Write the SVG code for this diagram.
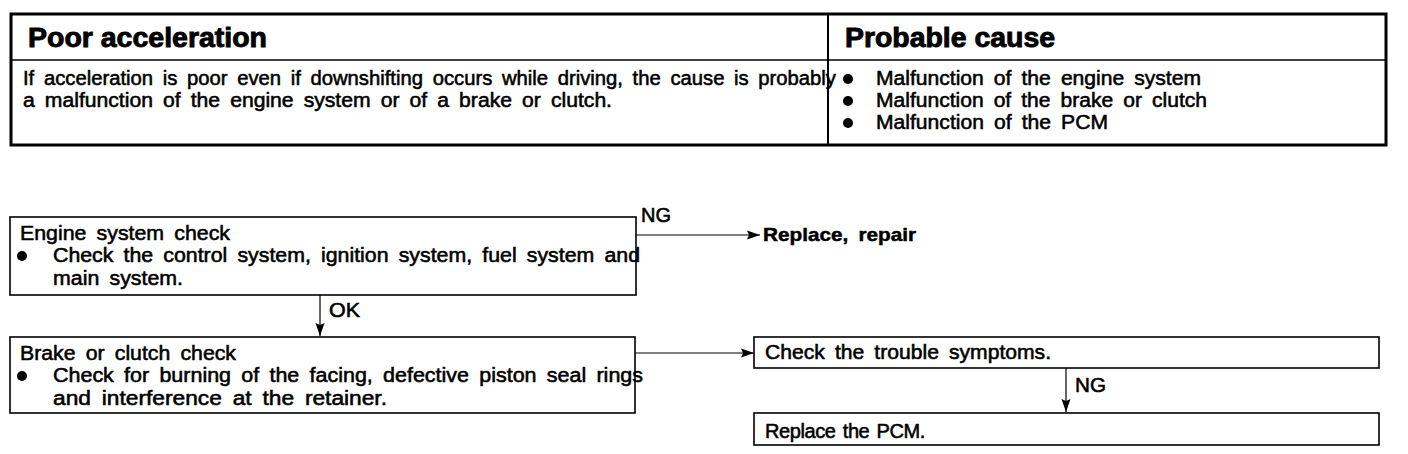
<svg xmlns="http://www.w3.org/2000/svg" width="1408" height="454" viewBox="0 0 1408 454">
<defs>
<style>
.t{font-family:"Liberation Sans",Arial,sans-serif;font-size:20px;word-spacing:4px;fill:#000;stroke:#000;stroke-width:0.55}
.h{font-family:"Liberation Sans",Arial,sans-serif;font-size:27px;font-weight:bold;fill:#000;stroke:#000;stroke-width:0.9}
.b{font-family:"Liberation Sans",Arial,sans-serif;font-size:19px;font-weight:bold;word-spacing:4px;fill:#000;stroke:#000;stroke-width:0.5}
.box{fill:#fff;stroke:#000;stroke-width:1.6}
.ln{fill:none;stroke:#000;stroke-width:1.2}
</style>
<marker id="ah" markerWidth="14" markerHeight="11" refX="13" refY="5.5" orient="auto" markerUnits="userSpaceOnUse">
<path d="M0,1 L13,5.5 L0,10 L2,5.5 Z" fill="#000"/>
</marker>
</defs>
<rect width="1408" height="454" fill="#fff"/>
<g id="table">
<rect x="11" y="14" width="1375" height="131" fill="#fff" stroke="#000" stroke-width="3"/>
<line x1="11" y1="60" x2="1386" y2="60" stroke="#000" stroke-width="1.5"/>
<line x1="828" y1="14" x2="828" y2="145" stroke="#000" stroke-width="2"/>
<text class="h" x="28" y="47" textLength="239" lengthAdjust="spacingAndGlyphs">Poor acceleration</text>
<text class="h" x="845" y="47" textLength="210" lengthAdjust="spacingAndGlyphs">Probable cause</text>
<text class="t" x="23" y="85" textLength="813" lengthAdjust="spacingAndGlyphs">If acceleration is poor even if downshifting occurs while driving, the cause is probably</text>
<text class="t" x="23" y="107" textLength="589" lengthAdjust="spacingAndGlyphs">a malfunction of the engine system or of a brake or clutch.</text>
<circle cx="848" cy="79" r="5"/>
<circle cx="848" cy="101" r="5"/>
<circle cx="848" cy="123" r="5"/>
<text class="t" x="876" y="85" textLength="325" lengthAdjust="spacingAndGlyphs">Malfunction of the engine system</text>
<text class="t" x="876" y="107" textLength="331" lengthAdjust="spacingAndGlyphs">Malfunction of the brake or clutch</text>
<text class="t" x="876" y="129" textLength="232" lengthAdjust="spacingAndGlyphs">Malfunction of the PCM</text>
</g>
<g id="connectors">
<line class="ln" x1="636" y1="235" x2="760" y2="235" marker-end="url(#ah)"/>
<line class="ln" x1="320" y1="295" x2="320" y2="336" marker-end="url(#ah)"/>
<line class="ln" x1="635" y1="353" x2="754" y2="353" marker-end="url(#ah)"/>
<line class="ln" x1="1066" y1="368" x2="1066" y2="412" marker-end="url(#ah)"/>
<text class="t" x="641" y="222" textLength="30" lengthAdjust="spacingAndGlyphs">NG</text>
<text class="t" x="329" y="317" textLength="31" lengthAdjust="spacingAndGlyphs">OK</text>
<text class="t" x="1075" y="392" textLength="31" lengthAdjust="spacingAndGlyphs">NG</text>
</g>
<g id="engine-check">
<rect class="box" x="10" y="217" width="626" height="78"/>
<text class="t" x="20" y="240" textLength="210" lengthAdjust="spacingAndGlyphs">Engine system check</text>
<circle cx="22" cy="256" r="5"/>
<text class="t" x="53" y="262" textLength="587" lengthAdjust="spacingAndGlyphs">Check the control system, ignition system, fuel system and</text>
<text class="t" x="53" y="285" textLength="130" lengthAdjust="spacingAndGlyphs">main system.</text>
</g>
<g id="replace-repair">
<text class="b" x="763" y="241" textLength="153" lengthAdjust="spacingAndGlyphs">Replace, repair</text>
</g>
<g id="brake-check">
<rect class="box" x="10" y="337" width="625" height="76"/>
<text class="t" x="20" y="360" textLength="216" lengthAdjust="spacingAndGlyphs">Brake or clutch check</text>
<circle cx="22" cy="376" r="5"/>
<text class="t" x="53" y="382" textLength="590" lengthAdjust="spacingAndGlyphs">Check for burning of the facing, defective piston seal rings</text>
<text class="t" x="53" y="405" textLength="334" lengthAdjust="spacingAndGlyphs">and interference at the retainer.</text>
</g>
<g id="trouble-symptoms">
<rect class="box" x="754" y="337" width="625" height="31"/>
<text class="t" x="765" y="359" textLength="286" lengthAdjust="spacingAndGlyphs">Check the trouble symptoms.</text>
</g>
<g id="replace-pcm">
<rect class="box" x="754" y="413" width="625" height="32"/>
<text class="t" x="765" y="438" style="word-spacing:2px;letter-spacing:-0.4px">Replace the PCM.</text>
</g>
</svg>
